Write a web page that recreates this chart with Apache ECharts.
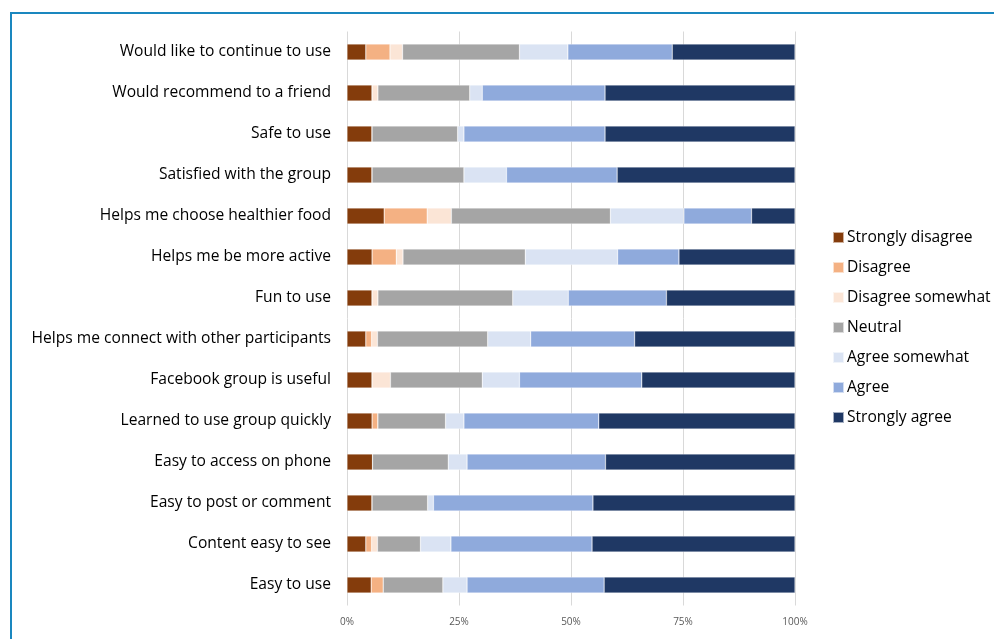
<!DOCTYPE html>
<html><head><meta charset="utf-8">
<script src="https://cdn.jsdelivr.net/npm/echarts@6/dist/echarts.min.js"></script>
<style>html,body{margin:0;padding:0;background:#fff}#c{width:994px;height:639px}</style>
</head><body><div id="c"></div>
<script>
const categories = [
  "Would like to continue to use","Would recommend to a friend","Safe to use",
  "Satisfied with the group","Helps me choose healthier food","Helps me be more active",
  "Fun to use","Helps me connect with other participants","Facebook group is useful",
  "Learned to use group quickly","Easy to access on phone","Easy to post or comment",
  "Content easy to see","Easy to use"
];
const seriesNames = ["Strongly disagree","Disagree","Disagree somewhat","Neutral","Agree somewhat","Agree","Strongly agree"];
const stronglyDisagree = [4.2,5.6,5.6,5.6,8.3,5.6,5.6,4.2,5.6,5.6,5.7,5.6,4.2,5.4];
const disagree         = [5.4,0,0,0,9.6,5.4,0,1.3,0,1.3,0,0,1.3,2.7];
const disagreeSomewhat = [2.8,1.3,0,0,5.4,1.5,1.3,1.3,4.1,0,0,0,1.3,0];
const neutral          = [26.1,20.5,19.1,20.5,35.5,27.3,30.1,24.6,20.5,15.1,16.9,12.4,9.6,13.3];
const agreeSomewhat    = [10.8,2.8,1.4,9.5,16.4,20.6,12.4,9.6,8.3,4.1,4.2,1.3,6.8,5.4];
const agree            = [23.3,27.4,31.5,24.7,15.1,13.7,21.9,23.2,27.3,30.1,30.9,35.6,31.5,30.6];
const stronglyAgree    = [27.4,42.4,42.4,39.7,9.7,25.9,28.7,35.8,34.2,43.8,42.3,45.1,45.3,42.6];
const xTicks = [0,25,50,75,100];

const colors = ["#843C0C","#F4B183","#FBE5D6","#A5A5A5","#DAE3F3","#8FAADC","#1F3864"];
const values = [stronglyDisagree,disagree,disagreeSomewhat,neutral,agreeSomewhat,agree,stronglyAgree];

const chart = echarts.init(document.getElementById('c'));
chart.setOption({
  animation:false,
  textStyle:{fontFamily:"Open Sans"},
  graphic:[{type:'rect',shape:{x:11,y:13,width:1100,height:800},style:{fill:'none',stroke:'#1a87bf',lineWidth:2}}],
  grid:{left:347,right:199,top:31.5,bottom:33.5,containLabel:false},
  legend:{
    orient:'vertical',left:827,top:224,itemWidth:11,itemHeight:11,itemGap:13,
    icon:'rect',data:seriesNames,
    textStyle:{fontSize:15.6,color:'#000',fontFamily:"Open Sans",lineHeight:17,padding:[0,0,0,-2]}
  },
  xAxis:{type:'value',min:0,max:100,interval:25,
    axisLabel:{formatter:v=>xTicks.includes(v)?v+'%':'',fontSize:10,color:'#595959',margin:12},
    splitLine:{lineStyle:{color:'#d9d9d9',width:1}},axisLine:{show:false},axisTick:{show:false}},
  yAxis:{type:'category',data:categories,inverse:true,
    axisLine:{show:false},axisTick:{show:false},
    axisLabel:{fontSize:15.6,color:'#000',margin:16,fontFamily:"Open Sans",padding:[3,0,0,0]}},
  series:seriesNames.map((n,i)=>({
    name:n,type:'bar',stack:'all',barWidth:16,data:values[i],
    itemStyle:{color:colors[i],borderColor:'rgba(255,255,255,0.6)',borderWidth:0.5}
  }))
});
</script></body></html>
